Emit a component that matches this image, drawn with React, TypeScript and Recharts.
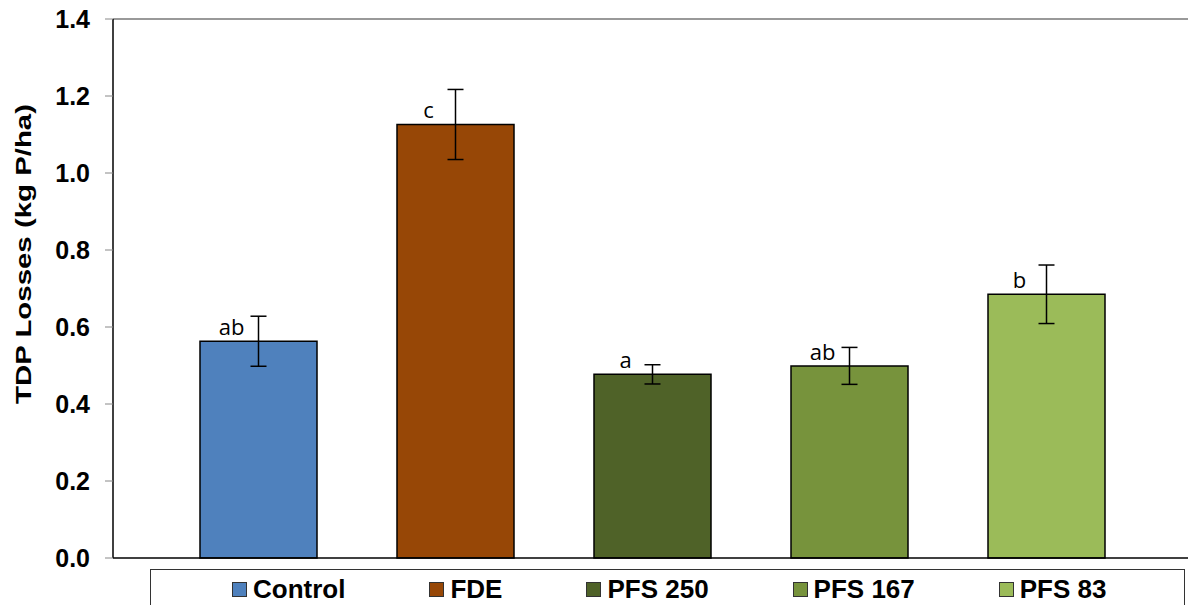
import { BarChart, Bar, XAxis, YAxis, Cell, ErrorBar, LabelList, Legend, ReferenceLine } from 'recharts';

// treatments and their TDP losses (kg P/ha)
const categories = ['Control', 'FDE', 'PFS 250', 'PFS 167', 'PFS 83'];
const tdpLosses = [0.563, 1.126, 0.477, 0.499, 0.685];
const stdErrors = [0.065, 0.091, 0.025, 0.048, 0.076];
const groupLetters = ['ab', 'c', 'a', 'ab', 'b'];
const barColors = ['#4F81BD', '#974706', '#4F6228', '#77933C', '#9BBB59'];
const yTicks = [0, 0.2, 0.4, 0.6, 0.8, 1.0, 1.2, 1.4];

const boldFont = '"Liberation Sans", Arial, sans-serif';

const data = categories.map((name, i) => ({
  name,
  value: tdpLosses[i],
  err: stdErrors[i],
  letter: groupLetters[i],
}));

const YLabel = () => (
  <text
    x={31}
    y={254}
    transform="rotate(-90, 31, 254)"
    textAnchor="middle"
    fontFamily={boldFont}
    fontWeight={700}
    fontSize={22}
    fill="#000"
    textLength={300}
    lengthAdjust="spacingAndGlyphs"
  >
    TDP Losses (kg P/ha)
  </text>
);

const LetterLabel = (props: any) => {
  const { x, y, width, value } = props;
  return (
    <text
      x={x + width / 2 - 27}
      y={y - 6}
      textAnchor="middle"
      fontFamily='"Open Sans", sans-serif'
      fontSize={22}
      fill="#000"
    >
      {value}
    </text>
  );
};

// legend in a framed box below the axis, items laid out in one row
const LegendBox = () => (
  <div
    style={{
      position: 'relative',
      height: 60,
      border: '1.5px solid #333',
      boxSizing: 'border-box',
      background: '#fff',
      display: 'flex',
      alignItems: 'flex-start',
      paddingLeft: 81,
      paddingTop: 4,
      gap: 84,
    }}
  >
    {categories.map((c, i) => (
      <div key={c} style={{ display: 'flex', alignItems: 'center' }}>
        <span
          style={{
            display: 'inline-block',
            width: 13,
            height: 13,
            background: barColors[i],
            border: '1px solid #333',
            marginRight: 6,
          }}
        />
        <span style={{ fontFamily: boldFont, fontWeight: 700, fontSize: 26, color: '#000' }}>{c}</span>
      </div>
    ))}
  </div>
);

export default function App() {
  return (
    <div
      style={{
        position: 'absolute',
        left: 0,
        top: 0,
        width: 1188,
        height: 605,
        overflow: 'hidden',
        background: '#fff',
      }}
    >
      <BarChart
        width={1192}
        height={605}
        data={data}
        margin={{ top: 19, right: 0, left: 0, bottom: 37 }}
        barSize={117}
      >
        <XAxis
          dataKey="name"
          tick={false}
          tickLine={false}
          height={10}
          padding={{ left: 47, right: 47 }}
          axisLine={{ stroke: '#000', strokeWidth: 1.5 }}
        />
        <YAxis
          width={113}
          domain={[0, 1.4]}
          ticks={yTicks}
          interval={0}
          tickFormatter={(v) => v.toFixed(1)}
          tick={{ fill: '#000', fontSize: 25, fontWeight: 700, fontFamily: boldFont }}
          tickSize={8}
          tickMargin={15}
          tickLine={{ stroke: '#888' }}
          axisLine={{ stroke: '#000', strokeWidth: 1.5 }}
          label={<YLabel />}
        />
        <ReferenceLine y={1.4} stroke="#999" strokeWidth={2} />
        <Legend
          layout="horizontal"
          verticalAlign="middle"
          align="center"
          content={() => <LegendBox />}
          wrapperStyle={{ left: 150, top: 569, width: 1035, height: 60 }}
        />
        <Bar dataKey="value" stroke="#000" strokeWidth={1.5} isAnimationActive={false}>
          {data.map((d, i) => (
            <Cell key={d.name} fill={barColors[i]} />
          ))}
          <ErrorBar
            dataKey="err"
            width={8}
            stroke="#000"
            strokeWidth={1.5}
            direction="y"
            isAnimationActive={false}
          />
          <LabelList dataKey="letter" content={<LetterLabel />} />
        </Bar>
      </BarChart>
    </div>
  );
}
